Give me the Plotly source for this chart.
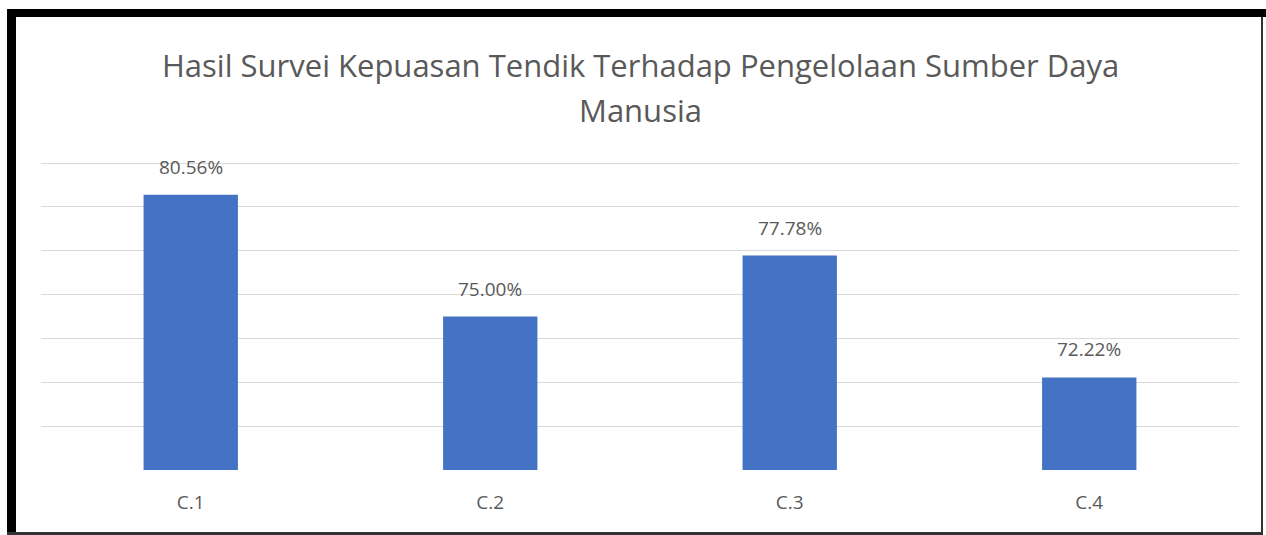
import plotly.graph_objects as go

categories = ["C.1", "C.2", "C.3", "C.4"]
values = [80.56, 75.00, 77.78, 72.22]
labels = ["80.56%", "75.00%", "77.78%", "72.22%"]
title_line1 = "Hasil Survei Kepuasan Tendik Terhadap Pengelolaan Sumber Daya"
title_line2 = "Manusia"

TXT = "#595959"
FONT = "Open Sans"

fig = go.Figure()
fig.add_trace(go.Bar(x=categories, y=values, marker_color="#4472C4",
                     marker_line_width=0, hoverinfo="skip"))

for c, v, t in zip(categories, values, labels):
    fig.add_annotation(x=c, y=v, text=t, showarrow=False, yanchor="bottom",
                       yshift=13, font=dict(family=FONT, size=19, color=TXT))

fig.add_annotation(xref="paper", yref="paper", x=0.5, y=1, yanchor="middle",
                   yshift=97, text=title_line1, showarrow=False,
                   font=dict(family=FONT, size=31, color=TXT))
fig.add_annotation(xref="paper", yref="paper", x=0.5, y=1, yanchor="middle",
                   yshift=52, text=title_line2, showarrow=False,
                   font=dict(family=FONT, size=31, color=TXT))

def pxrect(x0, x1, y0, y1, color):
    # pixel offsets relative to plot area's left (x) and top (y)
    fig.add_shape(type="rect", xref="paper", yref="paper",
                  xsizemode="pixel", ysizemode="pixel", xanchor=0, yanchor=1,
                  x0=x0, x1=x1, y0=y0, y1=y1,
                  fillcolor=color, line_width=0, layer="above")

# frame: plot area left = 40 px, top = 162 px
pxrect(6 - 40, 15 - 40, 162 - 535, 162 - 9, "black")       # left thick bar
pxrect(6 - 40, 1266 - 40, 162 - 17, 162 - 9, "black")      # top thick bar
pxrect(1260 - 40, 1262 - 40, 162 - 535, 162 - 17, "#333333")  # right thin
pxrect(6 - 40, 1262 - 40, 162 - 535, 162 - 532, "#333333")    # bottom thin

fig.update_layout(
    width=1266, height=535,
    margin=dict(l=41, r=27, t=162, b=65),
    paper_bgcolor="white", plot_bgcolor="white",
    showlegend=False, bargap=0.685,
    xaxis=dict(showline=False, ticks="", ticklabelstandoff=19,
               tickfont=dict(family=FONT, size=19, color=TXT), showgrid=False),
    yaxis=dict(range=[68, 82.05], dtick=2, showticklabels=False, showgrid=True,
               gridcolor="#d9d9d9", gridwidth=1, zeroline=False, showline=False),
)
fig.write_html("out.html", config={"displayModeBar": False},
               post_script="document.body.style.margin='0';document.body.style.overflow='hidden';")
